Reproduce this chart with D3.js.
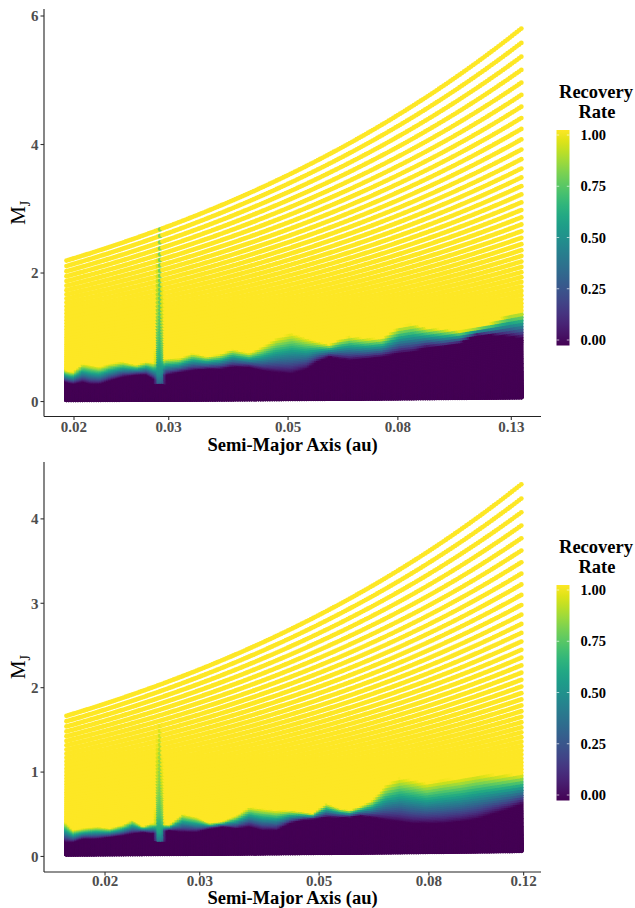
<!DOCTYPE html>
<html><head><meta charset="utf-8">
<script src="https://cdn.jsdelivr.net/npm/d3@7"></script>
<style>
body{margin:0;background:#fff}
svg{display:block}
text{font-family:"Liberation Serif","Times New Roman",serif}
</style>
</head><body>
<svg id="chart" width="635" height="908"></svg>
<script>
// ---------- data ----------
const xTicksTop = [0.02, 0.03, 0.05, 0.08, 0.13];
const xTicksBottom = [0.02, 0.03, 0.05, 0.08, 0.12];
const yTicksTop = [0, 2, 4, 6];
const yTicksBottom = [0, 1, 2, 3, 4];
const legendTicks = [0, 0.25, 0.5, 0.75, 1];
const legendLabels = ["0.00", "0.25", "0.50", "0.75", "1.00"];

// simulation grid (semi-major axis columns, mass curves of constant K)
const topGrid = {aMin: 0.01937, aMax: 0.1357, nCols: 200, mTopAtMax: 5.805, ratio: 1.04, nCurves: 115};
const bottomGrid = {aMin: 0.01696, aMax: 0.1188, nCols: 200, mTopAtMax: 4.41, ratio: 1.04, nCurves: 108};

// top panel: mass where recovery starts (lo) and reaches 1 (hi)
const topKnotA = [0.01924,0.01991,0.02079,0.02142,0.02235,0.02333,0.02467,0.02619,0.02733,0.02829,
  0.02978,0.03148,0.03328,0.03534,0.03736,0.03950,0.04247,0.04491,0.04769,0.05084,
  0.05422,0.05659,0.05982,0.06244,0.06517,0.07008,0.07505,0.08071,0.08534,0.09059,
  0.09703,0.10436,0.11225,0.12018,0.12924,0.13666];
const topHiM = [0.51,0.48,0.61,0.59,0.56,0.61,0.64,0.59,0.64,0.62,
  0.69,0.69,0.77,0.72,0.75,0.83,0.77,0.87,1.00,1.08,
  1.00,0.95,0.90,0.98,1.03,1.00,1.00,1.18,1.22,1.16,
  1.14,1.11,1.16,1.24,1.37,1.41];
const topLoM = [0.33,0.30,0.33,0.30,0.30,0.35,0.41,0.44,0.44,0.36,
  0.44,0.48,0.51,0.53,0.53,0.56,0.56,0.51,0.48,0.46,
  0.53,0.64,0.72,0.69,0.67,0.69,0.72,0.77,0.79,0.86,
  0.87,0.92,1.05,1.05,1.03,1.00];
const topSpikeA = 0.0289;
const topSpikeM = [0.30,0.45,0.70,1.00,1.50,2.20,2.80];
const topSpikeRate = [0.30,0.50,0.64,0.70,0.76,0.80,0.83];
const topSpikeWidthM = [0.4, 1.3, 2.6];
const topSpikeWidthPx = [5.5, 3.2, 1.9];

// bottom panel
const bottomKnotA = [0.01685,0.01744,0.01820,0.01933,0.02043,0.02160,0.02255,0.02353,0.02446,0.02642,
  0.02793,0.02965,0.03135,0.03314,0.03519,0.03720,0.03933,0.04175,0.04414,0.04667,
  0.04871,0.05171,0.05467,0.05707,0.05957,0.06297,0.06688,0.07070,0.07475,0.07936,
  0.08499,0.09140,0.09830,0.10527,0.11317,0.11968];
const bottomHiM = [0.43,0.33,0.35,0.37,0.35,0.39,0.45,0.37,0.41,0.39,
  0.52,0.48,0.41,0.43,0.50,0.60,0.58,0.56,0.56,0.54,
  0.52,0.64,0.58,0.56,0.60,0.68,0.86,0.94,0.92,0.88,
  0.92,0.94,0.98,0.98,0.98,0.98];
const bottomLoM = [0.19,0.19,0.23,0.23,0.25,0.27,0.29,0.31,0.29,0.33,
  0.31,0.31,0.35,0.37,0.35,0.37,0.33,0.33,0.41,0.45,
  0.46,0.48,0.48,0.48,0.50,0.48,0.45,0.43,0.41,0.41,
  0.41,0.43,0.46,0.52,0.58,0.64];
const bottomSpikeA = 0.0253;
const bottomSpikeM = [0.20,0.30,0.50,0.80,1.20,1.45,1.60];
const bottomSpikeRate = [0.38,0.58,0.72,0.80,0.86,0.93,1.00];
const bottomSpikeWidthM = [0.3, 0.9, 1.6];
const bottomSpikeWidthPx = [5.5, 3.2, 1.9];

// ---------- drawing ----------
const svg = d3.select("#chart");
svg.append("rect").attr("width",635).attr("height",908).attr("fill","#fff");

const panels = [
  {grid: topGrid, knotA: topKnotA, hi: topHiM, lo: topLoM, spikeA: topSpikeA, spikeM: topSpikeM, spikeR: topSpikeRate,
   spikeWM: topSpikeWidthM, spikeWP: topSpikeWidthPx,
   xDomain: [0.017590, 0.14763], yDomain: [-0.233, 6.109], yRange: [416.5, 9], xTicks: xTicksTop, yTicks: yTicksTop,
   tickLab: 15.5, titleOff: 34.5, dy: 0},
  {grid: bottomGrid, knotA: bottomKnotA, hi: bottomHiM, lo: bottomLoM, spikeA: bottomSpikeA, spikeM: bottomSpikeM, spikeR: bottomSpikeRate,
   spikeWM: bottomSpikeWidthM, spikeWP: bottomSpikeWidthPx,
   xDomain: [0.015403, 0.12925], yDomain: [-0.184, 4.674], yRange: [872, 462], xTicks: xTicksBottom, yTicks: yTicksBottom,
   tickLab: 13.5, titleOff: 32, dy: 455}
];

const xLeft = 44, xRight = 541;

panels.forEach(p => {
  const x = d3.scaleLog().domain(p.xDomain).range([xLeft, xRight]);
  const y = d3.scaleLinear().domain(p.yDomain).range(p.yRange);
  const la = p.knotA.map(a => Math.log10(a));
  const hiF = d3.scaleLinear().domain(la).range(p.hi).clamp(true);
  const loF = d3.scaleLinear().domain(la).range(p.lo).clamp(true);
  const spikeF = d3.scaleLinear().domain(p.spikeM).range(p.spikeR).clamp(true);
  const spikeW = d3.scaleLinear().domain(p.spikeWM).range(p.spikeWP).clamp(true);
  const color = d3.scaleSequential(d3.interpolateViridis).domain([0,1]);

  const g = p.grid;
  const cols = d3.range(g.nCols).map(i => g.aMin * Math.pow(g.aMax / g.aMin, i / (g.nCols - 1)));
  const pts = [];
  for (let j = 0; j < g.nCurves; j++) {
    const mAtMax = g.mTopAtMax / Math.pow(g.ratio, g.nCurves - 1 - j);
    cols.forEach(a => {
      const m = mAtMax * Math.sqrt(a / g.aMax);
      const la0 = Math.log10(a);
      const lo = loF(la0), hi = hiF(la0);
      let r = Math.max(0, Math.min(1, (m - lo) / (hi - lo)));
      const dx = Math.abs(x(a) - x(p.spikeA));
      if (m >= p.spikeM[0]) {
        const hw = spikeW(m);
        const w = Math.max(0, Math.min(1, (hw - dx) / (hw * 0.6)));
        r = r * (1 - w) + spikeF(m) * w;
      }
      pts.push({a: a, m: m, r: r});
    });
  }

  const gp = svg.append("g");
  gp.selectAll("circle").data(pts).join("circle")
    .attr("cx", d => x(d.a))
    .attr("cy", d => y(d.m))
    .attr("r", 2.4)
    .attr("fill", d => color(d.r));

  // axes
  svg.append("line").attr("x1", xLeft).attr("x2", xLeft).attr("y1", p.yRange[1]).attr("y2", p.yRange[0])
    .attr("stroke", "#222").attr("stroke-width", 1.1);
  svg.append("line").attr("x1", xLeft).attr("x2", xRight).attr("y1", p.yRange[0]).attr("y2", p.yRange[0])
    .attr("stroke", "#222").attr("stroke-width", 1.1);

  p.yTicks.forEach(v => {
    svg.append("line").attr("x1", xLeft - 3.5).attr("x2", xLeft).attr("y1", y(v)).attr("y2", y(v))
      .attr("stroke", "#333").attr("stroke-width", 1.1);
    svg.append("text").attr("x", xLeft - 5.5).attr("y", y(v)).attr("dy", "0.35em")
      .attr("text-anchor", "end").attr("font-size", 15).attr("font-weight", "bold").attr("fill", "#4d4d4d").text(v);
  });
  p.xTicks.forEach(v => {
    svg.append("line").attr("x1", x(v)).attr("x2", x(v)).attr("y1", p.yRange[0]).attr("y2", p.yRange[0] + 3.5)
      .attr("stroke", "#333").attr("stroke-width", 1.1);
    svg.append("text").attr("x", x(v)).attr("y", p.yRange[0] + p.tickLab)
      .attr("text-anchor", "middle").attr("font-size", 15).attr("font-weight", "bold").attr("fill", "#4d4d4d").text(d3.format(".2f")(v));
  });

  // axis titles
  svg.append("text").attr("x", (xLeft + xRight) / 2).attr("y", p.yRange[0] + p.titleOff)
    .attr("text-anchor", "middle").attr("font-size", 18.5).attr("font-weight", "bold").attr("fill", "#000")
    .text("Semi-Major Axis (au)");
  const yc = (p.yRange[0] + p.yRange[1]) / 2;
  const yt = svg.append("text").attr("transform", `translate(25,${yc}) rotate(-90)`)
    .attr("text-anchor", "middle").attr("font-size", 21).attr("fill", "#000");
  yt.append("tspan").text("M");
  yt.append("tspan").attr("font-size", 14).attr("dy", 5).text("J");

  // legend
  const dy = p.dy;
  const legY = d3.scaleLinear().domain([0, 1]).range([340 + dy, 135 + dy]);
  const gradId = "grad" + dy;
  const grad = svg.append("defs").append("linearGradient").attr("id", gradId)
    .attr("x1", 0).attr("x2", 0).attr("y1", 1).attr("y2", 0);
  d3.range(0, 1.0001, 0.05).forEach(t => {
    grad.append("stop").attr("offset", t).attr("stop-color", d3.interpolateViridis(t));
  });
  const barTop = legY(1) - 5, barBot = legY(0) + 5.5;
  svg.append("rect").attr("x", 556.5).attr("y", barTop).attr("width", 13).attr("height", barBot - barTop)
    .attr("fill", `url(#${gradId})`);
  legendTicks.forEach((v, i) => {
    svg.append("line").attr("x1", 556.5).attr("x2", 559.2).attr("y1", legY(v)).attr("y2", legY(v))
      .attr("stroke", "#fff").attr("stroke-width", 0.8).attr("opacity", 0.8);
    svg.append("line").attr("x1", 566.8).attr("x2", 569.5).attr("y1", legY(v)).attr("y2", legY(v))
      .attr("stroke", "#fff").attr("stroke-width", 0.8).attr("opacity", 0.8);
    svg.append("text").attr("x", 580.5).attr("y", legY(v)).attr("dy", "0.35em")
      .attr("font-size", 14.5).attr("font-weight", "bold").attr("fill", "#000").text(legendLabels[i]);
  });
  svg.append("text").attr("x", 596).attr("y", 98 + dy).attr("text-anchor", "middle")
    .attr("font-size", 18.5).attr("font-weight", "bold").text("Recovery");
  svg.append("text").attr("x", 597).attr("y", 118 + dy).attr("text-anchor", "middle")
    .attr("font-size", 18.5).attr("font-weight", "bold").text("Rate");
});
</script>
</body></html>
